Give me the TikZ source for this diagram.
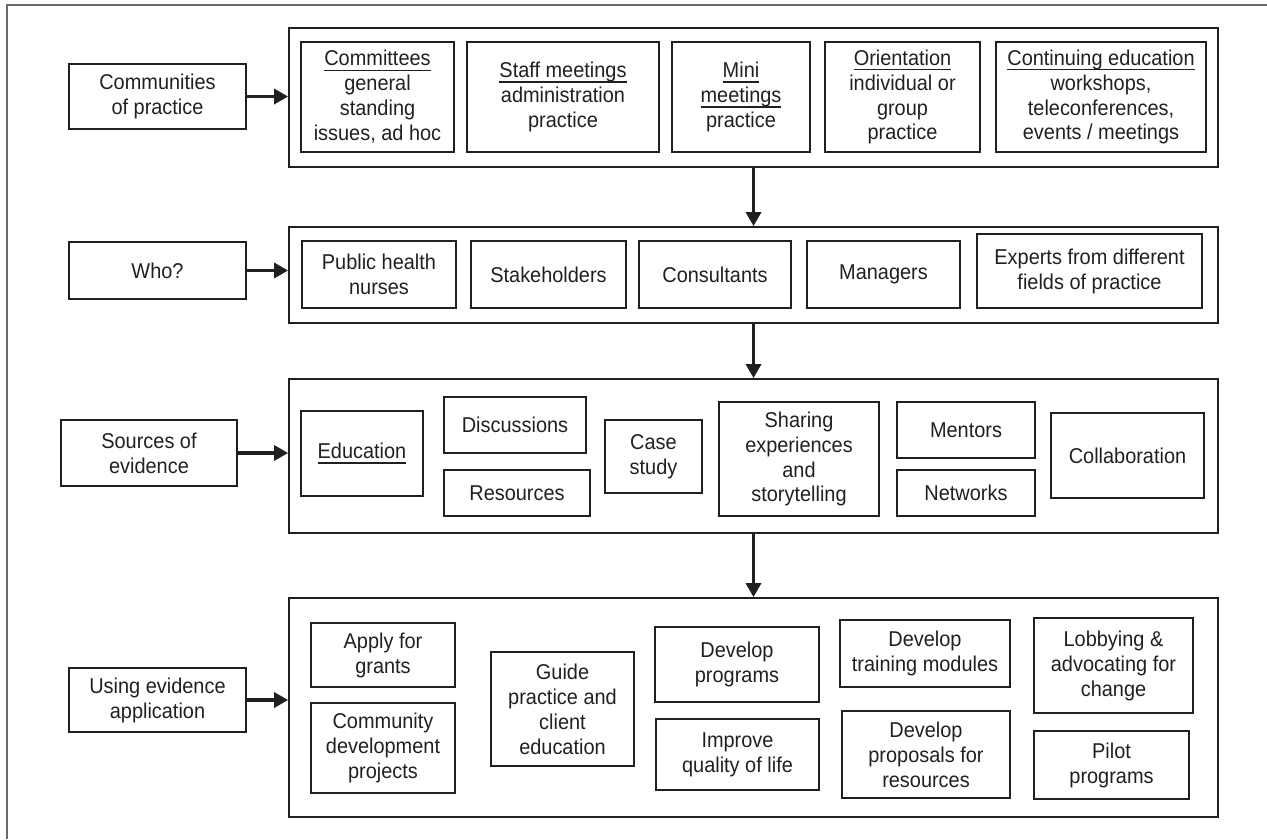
\documentclass[tikz,border=0pt]{standalone}
\usepackage{fontspec}
\setmainfont{Liberation Sans}[FakeStretch=0.93]
\usetikzlibrary{arrows.meta}
\definecolor{ink}{RGB}{35,31,32}
\definecolor{framegray}{RGB}{105,105,105}
% underlined heading, rule at a fixed depth
\newsavebox{\hdbox}
\newcommand{\hdline}[1]{\leavevmode\sbox{\hdbox}{#1}\rlap{\vrule width\wd\hdbox height -2.1pt depth 3.0pt}\usebox{\hdbox}}
\tikzset{
  box/.style={draw=ink, line width=1pt, text=ink, align=center, inner sep=0pt},
  panel/.style={draw=ink, line width=1pt, inner sep=0pt},
  sz/.style 2 args={minimum width=#1*0.02cm, minimum height=#2*0.02cm},
  flow/.style={draw=ink, line width=1.9pt, -{Triangle[length=0.28cm,width=0.3cm]}}
}
\begin{document}
\begin{tikzpicture}[x=0.02cm,y=-0.02cm]
            \useasboundingbox (0,0) rectangle (1267,839);
            {\fontsize{12.2}{14.2}\selectfont

            % Outer frame (top and left edge)
            \draw [framegray, line width=1.2pt] (7,839) -- (7,5) -- (1267,5);%

            % Row 1: communities of practice
            \node [box, sz={177}{65}] (comm) at (157.5,96.5) {Communities\\of practice};%
            \node [panel, sz={929}{139}] (row1) at (753.5,97.5) {};%
            \node [box, sz={153}{110}] (committees) at (377.5,97.0) {\hdline{Committees}\\general\\standing\\issues, ad hoc};%
            \node [box, sz={192}{110}] (staff) at (563.0,97.0) {\hdline{Staff meetings}\\administration\\practice};%
            \node [box, sz={138}{110}] (mini) at (741.0,97.0) {\hdline{Mini}\\\hdline{meetings}\\practice};%
            \node [box, sz={155}{110}] (orient) at (902.5,97.0) {\hdline{Orientation}\\individual or\\group\\practice};%
            \node [box, sz={210}{110}] (contin) at (1101.0,97.0) {\hdline{Continuing education}\\workshops,\\teleconferences,\\events / meetings};%
            \draw [flow] (comm.east) -- (comm.east -| row1.west);%

            % Row 2: who?
            \node [box, sz={177}{57}] (who) at (157.5,270.5) {Who?};%
            \node [panel, sz={929}{96}] (row2) at (753.5,275.0) {};%
            \node [box, sz={154}{67}] (nurses) at (379.0,274.5) {Public health\\nurses};%
            \node [box, sz={155}{67}] (stake) at (548.5,274.5) {Stakeholders};%
            \node [box, sz={152}{67}] (consult) at (715.0,274.5) {Consultants};%
            \node [box, sz={153}{67}] (managers) at (883.5,274.5) {Managers};%
            \node [box, sz={225}{74}] (experts) at (1089.5,271.0) {Experts from different\\fields of practice};%
            \draw [flow] (who.east) -- (who.east -| row2.west);%
            \draw [flow] (row1.south) -- (row2.north);%

            % Row 3: sources of evidence
            \node [box, sz={176}{66}] (sources) at (149.0,453.0) {Sources of\\evidence};%
            \node [panel, sz={929}{154}] (row3) at (753.5,456.0) {};%
            \node [box, sz={122}{85}] (education) at (362.0,453.5) {\hdline{Education}};%
            \node [box, sz={142}{56}] (discuss) at (515.0,425.0) {Discussions};%
            \node [box, sz={146}{46}] (resources) at (517.0,493.0) {Resources};%
            \node [box, sz={97}{73}] (casestudy) at (653.5,456.5) {Case\\study};%
            \node [box, sz={160}{114}] (sharing) at (799.0,459.0) {Sharing\\experiences\\and\\storytelling};%
            \node [box, sz={138}{56}] (mentors) at (966.0,430.0) {Mentors};%
            \node [box, sz={138}{46}] (networks) at (966.0,493.0) {Networks};%
            \node [box, sz={153}{85}] (collab) at (1127.5,455.5) {Collaboration};%
            \draw [flow] (sources.east) -- (sources.east -| row3.west);%
            \draw [flow] (row2.south) -- (row3.north);%

            % Row 4: using evidence application
            \node [box, sz={177}{64}] (using) at (157.5,700.0) {Using evidence\\application};%
            \node [panel, sz={929}{219}] (row4) at (753.5,707.5) {};%
            \node [box, sz={144}{64}] (grants) at (383.0,655.0) {Apply for\\grants};%
            \node [box, sz={144}{90}] (commdev) at (383.0,748.0) {Community\\development\\projects};%
            \node [box, sz={143}{114}] (guide) at (562.5,709.0) {Guide\\practice and\\client\\education};%
            \node [box, sz={164}{75}] (devprog) at (737.0,664.5) {Develop\\programs};%
            \node [box, sz={163}{71}] (improve) at (737.5,754.5) {Improve\\quality of life};%
            \node [box, sz={170}{67}] (training) at (925.0,653.5) {Develop\\training modules};%
            \node [box, sz={168}{87}] (proposals) at (926.0,754.5) {Develop\\proposals for\\resources};%
            \node [box, sz={159}{95}] (lobby) at (1113.5,665.5) {Lobbying \&\\advocating for\\change};%
            \node [box, sz={155}{68}] (pilot) at (1111.5,765.0) {Pilot\\programs};%
            \draw [flow] (using.east) -- (using.east -| row4.west);%
            \draw [flow] (row3.south) -- (row4.north);%
            }
\end{tikzpicture}
\end{document}
